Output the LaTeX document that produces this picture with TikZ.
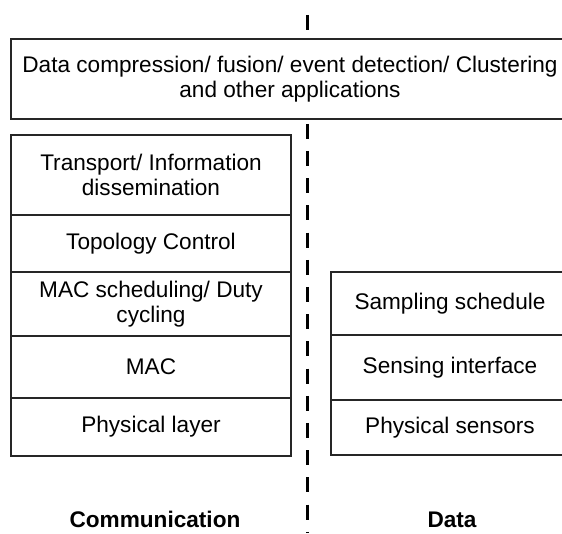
\documentclass[tikz,border=0pt]{standalone}
\usepackage{fontspec}
\setmainfont{Liberation Sans}
\usetikzlibrary{positioning}

\begin{document}
\begin{tikzpicture}[x=1pt, y=1pt,
    every node/.style={align=center, font=\fontsize{22.6}{25.5}\selectfont},
    layer/.style={draw=black!85, line width=1.6pt, fill=white, inner sep=0pt, outer sep=0pt, minimum width=280pt},
    datalayer/.style={layer, minimum width=238pt},
    appbox/.style={layer, minimum width=558pt, minimum height=80pt},
    divider/.style={line width=3pt, dash pattern=on 15pt off 12.2pt},
    caption/.style={font=\fontsize{22.6}{25.5}\selectfont\bfseries, anchor=base, inner sep=0pt}]
  \useasboundingbox (0,0) rectangle (562,533);
  \clip (0,0) rectangle (562,533);

  % dashed split between the two stacks
  \coordinate (divtop) at (307,518);
  \coordinate (divbottom) at (307,0);
  \draw[divider] (divtop) -- (divbottom);

  \node[appbox, anchor=north west] (apps) at (11,494) {Data compression/ fusion/ event detection/ Clustering\\ and other applications};

  % communication stack
  \node[layer, minimum height=80pt, anchor=north west] (transport) at (11,398) {Transport/ Information\\ dissemination};
  \node[layer, minimum height=57pt, below=0pt of transport] (topology) {Topology Control};
  \node[layer, minimum height=64pt, below=0pt of topology] (macsched) {MAC scheduling/ Duty\\ cycling};
  \node[layer, minimum height=62pt, below=0pt of macsched] (mac) {MAC};
  \node[layer, minimum height=58pt, below=0pt of mac] (phy) {Physical layer};

  % data stack
  \node[datalayer, minimum height=63pt, anchor=north west] (sampling) at (331,261) {Sampling schedule};
  \node[datalayer, minimum height=65pt, below=0pt of sampling] (sensing) {Sensing interface};
  \node[datalayer, minimum height=55pt, below=0pt of sensing] (sensors) {Physical sensors};

  \node[caption] (comm) at (155,6) {Communication};
  \node[caption] (data) at (452,6) {Data};

\end{tikzpicture}
\end{document}
